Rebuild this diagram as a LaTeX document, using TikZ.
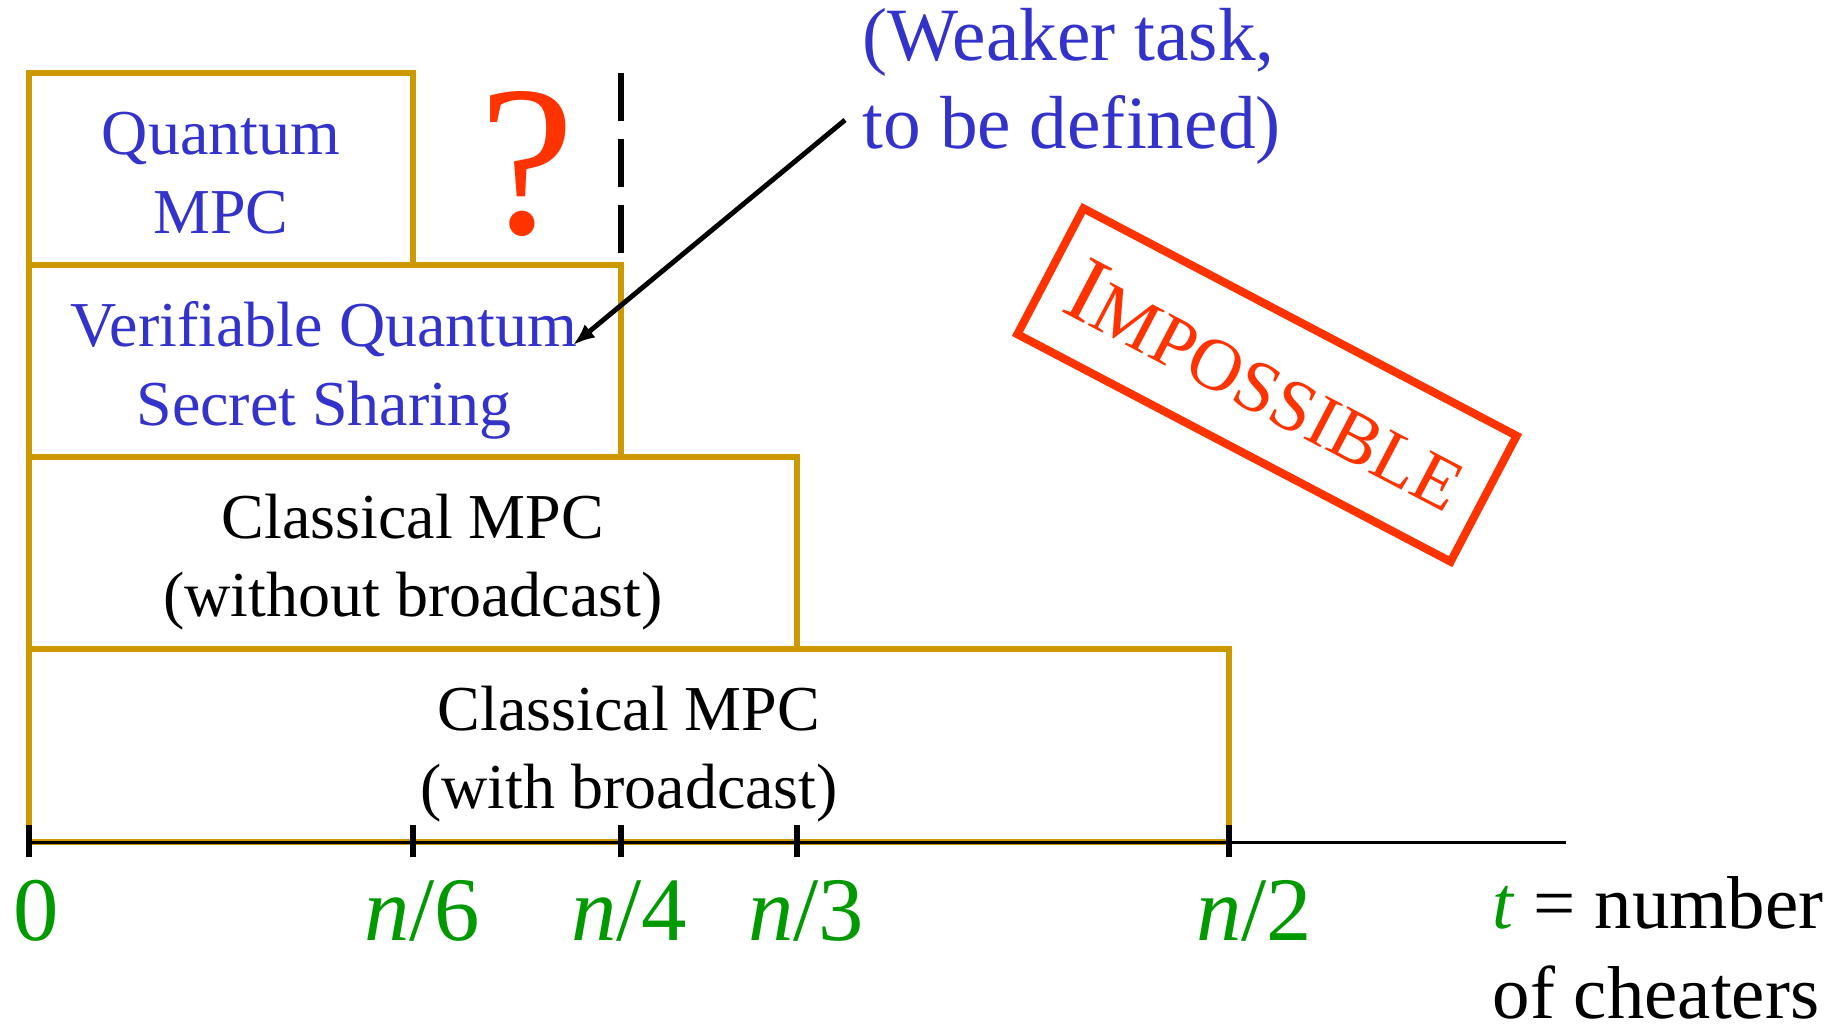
\documentclass[tikz,border=0pt]{standalone}
\usepackage{fontspec}
\setmainfont{Liberation Serif}
\usetikzlibrary{arrows.meta}
\definecolor{boxgold}{HTML}{CC9900}
\definecolor{qblue}{HTML}{3333CC}
\definecolor{tgreen}{HTML}{009900}
\definecolor{stampred}{HTML}{FF3300}
\begin{document}
\begin{tikzpicture}[x=0.01cm,y=-0.01cm,
  region/.style={draw=boxgold,line width=1.7pt},
  boxtext/.style={align=center,inner sep=0pt,font=\fontsize{18.2pt}{22.4pt}\selectfont},
  ticklabel/.style={anchor=base,inner sep=0pt,text=tgreen,font=\fontsize{25.8pt}{30pt}\selectfont},
  tickmark/.style={line width=1.6pt},
  note/.style={anchor=base west,inner sep=0pt,text=qblue,font=\fontsize{21.4pt}{25pt}\selectfont},
  axislabel/.style={anchor=base west,inner sep=0pt,font=\fontsize{21.3pt}{25.6pt}\selectfont}
]
\useasboundingbox (0,0) rectangle (1846,1029);

% stacked feasibility regions
\draw[region] (29,649) rectangle (1229,842);
\draw[region] (29,457) rectangle (797,649);
\draw[region] (29,265) rectangle (621,457);
\draw[region] (29,73) rectangle (413,265);

\node[boxtext] (cbc) at (629,754) {Classical MPC\\(with broadcast)};
\node[boxtext] (cnb) at (413,562) {Classical MPC\\(without broadcast)};
\node[boxtext,text=qblue] (vqss) at (324,370) {Verifiable Quantum\\Secret Sharing};
\node[boxtext,text=qblue] (qmpc) at (221,173) {Quantum\\MPC};

% open question and the n/4 bound
\node[inner sep=0pt,text=stampred,font=\fontsize{61pt}{70pt}\selectfont] (qmark) at (527,164) {?};
\coordinate (dtop) at (621,73);
\coordinate (dbot) at (621,253);
\draw[line width=1.5pt,dash pattern=on 0.48cm off 0.18cm] (dtop) -- (dbot);

% note on the weaker task
\node[note] (weak1) at (862,60) {(Weaker task,};
\node[note] (weak2) at (862,148) {to be defined)};
\coordinate (wstart) at (845,120);
\coordinate (wend) at (573,345);
\draw[line width=1.4pt,-{Latex[length=0.22cm,width=0.17cm]}] (wstart) -- (wend);

% impossibility stamp
\node[draw=stampred,line width=2.3pt,rotate=-27.7,minimum width=4.89cm,minimum height=1.42cm,inner sep=0pt,text=stampred] (imp) at (1267,385)
  {{\fontsize{26.7pt}{30pt}\selectfont I}{\fontsize{21pt}{25pt}\selectfont MPOSSIBLE}};

% axis with ticks
\coordinate (axstart) at (29,842);
\coordinate (axend) at (1566,842);
\draw[line width=0.85pt] (axstart) -- (axend);
\foreach \x in {29,413,621,797,1229}
  \draw[tickmark] (\x,825) -- (\x,857);

\node[ticklabel] (l0) at (36,940) {0};
\node[ticklabel] (l6) at (422,940) {\textit{n}/6};
\node[ticklabel] (l4) at (629,940) {\textit{n}/4};
\node[ticklabel] (l3) at (806,940) {\textit{n}/3};
\node[ticklabel] (l2) at (1254,940) {\textit{n}/2};

\node[axislabel] (tlab1) at (1492,928) {{\color{tgreen}\textit{t}} = number};
\node[axislabel] (tlab2) at (1492,1018) {of cheaters};
\end{tikzpicture}
\end{document}
